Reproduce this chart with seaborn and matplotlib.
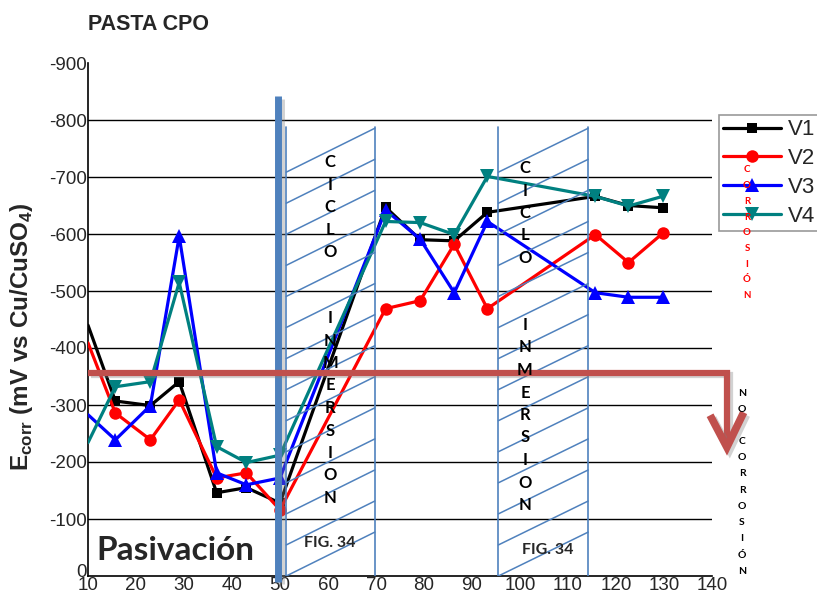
import numpy as np
import pandas as pd
import matplotlib
matplotlib.use("Agg")
import matplotlib.pyplot as plt
import matplotlib.patheffects as pe
from matplotlib.lines import Line2D
from matplotlib.ticker import FuncFormatter, MultipleLocator
from matplotlib.transforms import ScaledTranslation
import seaborn as sns

# values (mV, plotted as magnitude; axis labels are negative)
dias = [10, 15.7, 23, 29, 36.8, 43, 50, 72, 79.2, 86.3, 93.2, 115.7, 122.6, 129.7]
v1 = [440, 307, 299, 341, 146, 155, 128, 647, 590, 588, 638, 666, 650, 646]
v2 = [409, 286, 239, 309, 172, 181, 116, 469, 483, 582, 469, 599, 550, 601]
v3 = [283, 239, 299, 596, 181, 160, 172, 642, 591, 497, 622, 497, 489, 489]
v4 = [234, 332, 341, 515, 227, 199, 212, 622, 620, 599, 701, 666, 649, 666]

series = ["V1", "V2", "V3", "V4"]
colores = {"V1": "black", "V2": "#ff0000", "V3": "#0000ff", "V4": "#008080"}
marcas = {"V1": "s", "V2": "o", "V3": "^", "V4": "v"}
tam_marca = {"V1": 7.5, "V2": 9, "V3": 9.5, "V4": 9.5}

x_ticks = list(range(10, 150, 10))
y_ticks = list(range(0, 1000, 100))

df = pd.DataFrame({
    "dia": dias * 4,
    "E": v1 + v2 + v3 + v4,
    "serie": sum([[s] * len(dias) for s in series], []),
})

sns.set_theme(style="white")
plt.rcParams["font.family"] = ["Liberation Sans", "DejaVu Sans"]
plt.rcParams["mathtext.fontset"] = "custom"
plt.rcParams["mathtext.bf"] = "Liberation Sans:bold"
plt.rcParams["mathtext.rm"] = "Liberation Sans"

W, H = 817, 597
fig = plt.figure(figsize=(W / 100, H / 100), dpi=100)
ax = fig.add_axes([88 / W, 1 - 576 / H, (712 - 88) / W, (576 - 63) / H])

sns.lineplot(data=df, x="dia", y="E", hue="serie", style="serie",
             palette=colores, markers=marcas, dashes=False, lw=2.3,
             markeredgewidth=0, markevery=list(range(1, len(dias))),
             legend=False, ax=ax, zorder=3)
for line, s in zip(ax.lines, series):
    line.set_markersize(tam_marca[s])

ax.set_xlim(10, 140)
ax.set_ylim(0, 900)
ax.set_xticks(x_ticks)
ax.set_yticks(y_ticks)
ax.xaxis.set_minor_locator(MultipleLocator(5))
ax.yaxis.set_minor_locator(MultipleLocator(50))
ax.yaxis.set_major_formatter(FuncFormatter(lambda v, p: "0" if v == 0 else f"-{int(v)}"))
ax.tick_params(axis="both", which="major", labelsize=13.5, direction="in",
               length=4, width=1, color="black", pad=1)
ax.tick_params(axis="both", which="minor", direction="in", length=2, width=0.8, color="black")
ax.set_xlabel("")
ax.set_ylabel("")
for sp in ["top", "right"]:
    ax.spines[sp].set_visible(False)
for sp in ["left", "bottom"]:
    ax.spines[sp].set_color("black")
    ax.spines[sp].set_linewidth(1.2)
for yv in y_ticks[1:-1]:
    ax.axhline(yv, color="black", lw=1, zorder=1)

# lift the "0" label a little so it sits above the "10"
lab0 = ax.yaxis.get_major_ticks()[0].label1
lab0.set_transform(lab0.get_transform() + ScaledTranslation(0, 4 / 72, fig.dpi_scale_trans))

# hatched "ciclo inmersion" boxes
azul = "#4f81bd"


def caja_rayada(x0, x1, top=787, paso=54.5, sube=77):
    ax.plot([x0, x0], [0, top], color=azul, lw=1.2, zorder=4)
    ax.plot([x1, x1], [0, top], color=azul, lw=1.2, zorder=4)
    for k in range(14):
        y = k * paso
        ax.plot([x0, x1], [y, min(y + sube, top)], color=azul, lw=1.1, zorder=4)


caja_rayada(51.3, 69.75)
caja_rayada(95.5, 114.2)

sombra = [pe.SimpleLineShadow(offset=(2, -2), shadow_color="gray", alpha=0.35), pe.Normal()]

# vertical bar at day 50
ax.plot([49.6, 49.6], [-10, 842], color=azul, lw=5, solid_capstyle="butt",
        zorder=5, clip_on=False, path_effects=sombra)

# red threshold bar with arrow
rojo = "#c0504d"
ax.plot([10, 143.1, 143.1], [357, 357, 240], color=rojo, lw=4.5,
        solid_joinstyle="miter", solid_capstyle="butt", zorder=5, clip_on=False,
        path_effects=sombra)
ax.plot([139.6, 143.1, 146.6], [282, 226, 287], color=rojo, lw=5.5,
        solid_joinstyle="miter", solid_capstyle="butt", zorder=5, clip_on=False,
        path_effects=sombra)


def letras_px(texto, x, y0, paso, **kw):
    for i, ch in enumerate(texto):
        if ch == " ":
            continue
        fig.text(x / W, 1 - (y0 + i * paso) / H, ch, ha="center", va="center", **kw)


lato = ["Lato", "DejaVu Sans"]
kw_col = dict(fontsize=12, fontweight="bold", family=lato, color="black", zorder=6)
letras_px("CICLO", 330, 162, 22.5, **kw_col)
letras_px("INMERSION", 330, 318, 22.5, **kw_col)
letras_px("CICLO", 525, 168, 22.5, **kw_col)
letras_px("INMERSION", 525, 325, 22.5, **kw_col)
fig.text(330 / W, 1 - 543 / H, "FIG. 34", ha="center", va="center", fontsize=11.5,
         fontweight="bold", family=lato)
fig.text(548 / W, 1 - 550 / H, "FIG. 34", ha="center", va="center", fontsize=11.5,
         fontweight="bold", family=lato)

letras_px("NO CORROSIÓN", 742, 393, 16.2, fontsize=7.5, fontweight="bold",
          family=lato, color="black")
letras_px("CORROSIÓN", 747, 170, 15.7, fontsize=7, fontweight="bold",
          family=lato, color="#ff0000", zorder=10)

fig.text(175 / W, 1 - 550 / H, "Pasivación", ha="center", va="center", fontsize=24,
         fontweight="bold", family=lato)

fig.text(88 / W, 1 - 25 / H, "PASTA CPO", ha="left", va="center", fontsize=15.5,
         fontweight="bold")
fig.text(22 / W, 1 - 337 / H,
         r"E$_{\mathbf{corr}}$ (mV vs Cu/CuSO$_{\mathbf{4}}$)",
         rotation=90, ha="center", va="center", fontsize=17.5, fontweight="bold")

handles = [Line2D([], [], color=colores[s], marker=marcas[s], lw=2.3,
                  markersize=tam_marca[s], markeredgewidth=0) for s in series]
leg = ax.legend(handles, series, loc="upper left",
                bbox_to_anchor=(719 / W, 1 - 115 / H), bbox_transform=fig.transFigure,
                frameon=True, fancybox=False, fontsize=16, handlelength=2.6,
                handletextpad=0.3, labelspacing=0.35, borderpad=0.2,
                borderaxespad=0)
leg.get_frame().set_edgecolor("gray")
leg.get_frame().set_linewidth(1.2)
leg.set_zorder(8)

fig.savefig("out.png", dpi=100)
